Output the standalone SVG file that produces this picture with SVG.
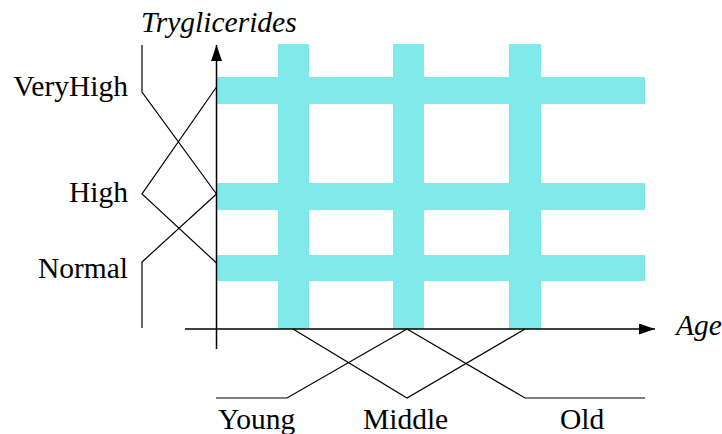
<svg xmlns="http://www.w3.org/2000/svg" width="722" height="434" viewBox="0 0 722 434">
<style>
.band{fill:#80e9e9;stroke:none}
.mf{fill:none;stroke:#000;stroke-width:1.2}
.ax{fill:none;stroke:#000;stroke-width:1.5}
.lbl{font-family:"Liberation Serif","Times New Roman",serif;font-size:29.5px;fill:#000}
.it{font-style:italic}
</style>
<defs>
<marker id="arrh" markerWidth="16" markerHeight="11" refX="16" refY="5.5" orient="auto" markerUnits="userSpaceOnUse" viewBox="0 0 16 11">
<path d="M0,0 L16,5.5 L0,11 z" fill="#000"/>
</marker>
</defs>
<g id="grid">
<rect class="band" x="278" y="44" width="31" height="285"/>
<rect class="band" x="393" y="44" width="31" height="285"/>
<rect class="band" x="509" y="44" width="32" height="285"/>
<rect class="band" x="216.5" y="77" width="428.5" height="27"/>
<rect class="band" x="216.5" y="183" width="428.5" height="27"/>
<rect class="band" x="216.5" y="255" width="428.5" height="26"/>
</g>
<g id="connectors">
<line class="ax" x1="216.5" y1="349" x2="216.5" y2="45" marker-end="url(#arrh)"/>
<line class="ax" x1="185" y1="329" x2="655" y2="329" stroke="#333" marker-end="url(#arrh)"/>
<polyline class="mf" points="142,45 142,92 216.5,194"/>
<polyline class="mf" points="216.5,87 142,194 216.5,263"/>
<polyline class="mf" points="216.5,194 142,262 142,328"/>
<polyline class="mf" points="216,398 287,398 407,329"/>
<polyline class="mf" points="293,329 407,398 525,329"/>
<polyline class="mf" points="407,329 525,398 645,398"/>
</g>
<g id="labels">
<text class="lbl it" x="141" y="32">Tryglicerides</text>
<text class="lbl it" x="676" y="335">Age</text>
<text class="lbl" x="128" y="96" text-anchor="end">VeryHigh</text>
<text class="lbl" x="128" y="202" text-anchor="end">High</text>
<text class="lbl" x="128" y="278" text-anchor="end">Normal</text>
<text class="lbl" x="218" y="429">Young</text>
<text class="lbl" x="363" y="429">Middle</text>
<text class="lbl" x="560" y="429">Old</text>
</g>
</svg>
